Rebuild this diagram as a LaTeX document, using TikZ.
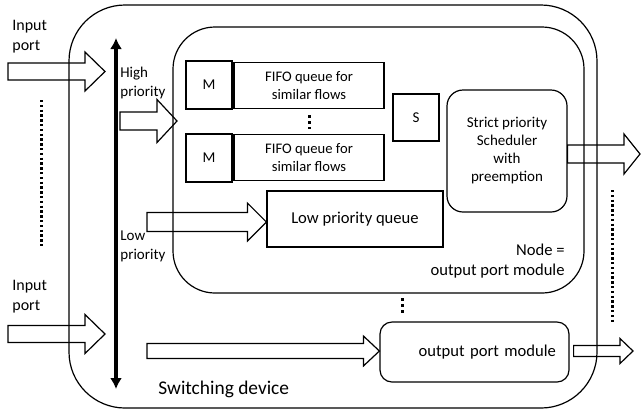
\documentclass[tikz,border=0pt]{standalone}
\usepackage{fontspec}
\setmainfont{Carlito}
\usetikzlibrary{calc,arrows.meta}

\tikzset{
  box/.style={draw,line width=0.6pt,inner sep=0pt,align=center,font=\fontsize{7.5}{9}\selectfont},
  roundbox/.style={box,rounded corners=8pt},
  lbl/.style={align=left,inner sep=0pt,anchor=west,font=\fontsize{7.5}{9.5}\selectfont},
  dots/.style={line width=1.5pt,dash pattern=on 1.2pt off 1.2pt},
  fewdots/.style={line width=1.5pt,dash pattern=on 1.5pt off 1.5pt},
}
% flat arrow: tail, tip, half body, half head, head length
\newcommand{\blockarrow}[5]{%
  \draw[line width=0.6pt] let \p1=(#1), \p2=(#2) in
    (\x1,\y1+#3) -- (\x2-#5,\y1+#3) -- (\x2-#5,\y1+#4) -- (\x2,\y1)
    -- (\x2-#5,\y1-#4) -- (\x2-#5,\y1-#3) -- (\x1,\y1-#3) -- cycle;}

\begin{document}
\begin{tikzpicture}[x=0.5pt,y=-0.5pt]
  \useasboundingbox (0,0) rectangle (641,409);

  % switching device and one output port module
  \node[box,rounded corners=28pt,minimum width=264pt,minimum height=201.5pt] (device) at (333,206.5) {};
  \node[box,rounded corners=21pt,minimum width=205.5pt,minimum height=133pt] (module) at (378.5,160) {};
  \node[lbl,anchor=east,align=right,font=\fontsize{8.3}{10}\selectfont] (modlbl) at (565,261) {Node =\\output port module};

  % queues, markers, scheduler
  \node[box,minimum width=23pt,minimum height=24pt] (m1) at (209,85) {M};
  \node[box,minimum width=75pt,minimum height=23pt,font=\fontsize{7.3}{9}\selectfont] (fifo1) at (309,85.5) {FIFO queue for\\similar flows};
  \node[box,minimum width=23pt,minimum height=24pt] (m2) at (209,158) {M};
  \node[box,minimum width=75pt,minimum height=23pt,font=\fontsize{7.3}{9}\selectfont] (fifo2) at (309,157.5) {FIFO queue for\\similar flows};
  \node[box,minimum width=23pt,minimum height=23.5pt] (sw) at (416,117.5) {S};
  \node[roundbox,minimum width=60pt,minimum height=61pt] (sched) at (507,151) {Strict priority\\Scheduler\\with\\preemption};
  \node[box,minimum width=88pt,minimum height=28pt,font=\fontsize{8.3}{10}\selectfont] (lowq) at (355,219) {Low priority queue};
  \node[roundbox,rounded corners=6pt,minimum width=94.5pt,minimum height=30pt,text width=81.5pt,align=right,font=\fontsize{8.3}{10}\selectfont] (outmod) at (474.5,352) {output port module};

  \draw[fewdots] ([yshift=-3pt]fifo1.south) -- ([yshift=2.5pt]fifo2.north);
  \draw[fewdots] (402,298) -- (402,314);

  % labels
  \node[lbl,font=\fontsize{8}{10}\selectfont] (in1lbl) at (12,37) {Input\\port};
  \node[lbl,font=\fontsize{8}{10}\selectfont] (in2lbl) at (12,296.5) {Input\\port};
  \node[lbl] (hilbl) at (120,82.5) {High\\priority};
  \node[lbl] (lolbl) at (120,246) {Low\\priority};
  \node[lbl,font=\fontsize{9.7}{11}\selectfont] (devlbl) at (158,389) {Switching device};

  % priority axis
  \coordinate (hitop) at (116,38);
  \coordinate (lobot) at (116,389);
  \draw[line width=1.6pt,{Latex[length=5.5pt,width=6pt]}-{Latex[length=5.5pt,width=6pt]}] (hitop) -- (lobot);

  % flows
  \coordinate (in1) at (8,71.5);
  \coordinate (in1tip) at (105,71.5);
  \coordinate (in2) at (8,334);
  \coordinate (in2tip) at (105,334);
  \coordinate (hi) at (120,121);
  \coordinate (hitip) at (177,121);
  \coordinate (lo) at (147,222);
  \coordinate (bot) at (147,351);
  \coordinate (out1) at (640,154);
  \coordinate (out2) at (633,351);
  \blockarrow{in1}{in1tip}{4.25pt}{9.75pt}{10pt}
  \blockarrow{in2}{in2tip}{4.25pt}{9.75pt}{10pt}
  \blockarrow{hi}{hitip}{4.5pt}{10.75pt}{10pt}
  \blockarrow{lo}{lowq.west}{4.75pt}{9.5pt}{9.5pt}
  \blockarrow{bot}{outmod.west}{3.75pt}{7.5pt}{8pt}
  \blockarrow{$(sched.east)+(0,3)$}{out1}{4.5pt}{10pt}{8pt}
  \blockarrow{$(outmod.east)+(4,-1)$}{out2}{2.75pt}{6.25pt}{6.5pt}

  \draw[dots] (41,100) -- (41,248);
  \draw[dots] (612,190) -- (612,322);
\end{tikzpicture}
\end{document}
